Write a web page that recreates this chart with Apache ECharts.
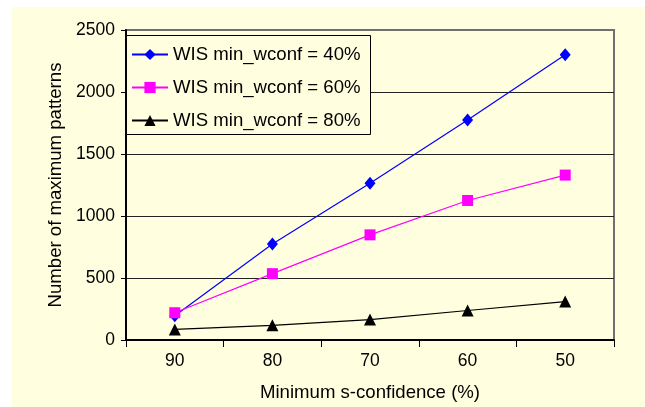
<!DOCTYPE html>
<html>
<head>
<meta charset="utf-8">
<script src="https://cdn.jsdelivr.net/npm/echarts@6/dist/echarts.min.js"></script>
<style>html,body{margin:0;padding:0;background:#fff}#c{width:645px;height:407px}</style>
</head>
<body>
<div id="c"></div>
<script>
const categories = ['90', '80', '70', '60', '50'];
const seriesNames = ['WIS min_wconf = 40%', 'WIS min_wconf = 60%', 'WIS min_wconf = 80%'];
const wconf40 = [195, 775, 1265, 1775, 2300];
const wconf60 = [220, 535, 848, 1125, 1330];
const wconf80 = [85, 118, 165, 238, 310];
const yTicks = { min: 0, max: 2500, interval: 500 };

const FONT = '"Liberation Sans", Arial, sans-serif';
const chart = echarts.init(document.getElementById('c'));
chart.setOption({
  backgroundColor: '#ffffff',
  animation: false,
  textStyle: { fontFamily: FONT, color: '#000' },
  graphic: [{
    type: 'rect', z: -100, silent: true,
    shape: { x: 12, y: 7, width: 633, height: 400 },
    style: { fill: '#FFFFE0' }
  }, {
    type: 'rect', z: 3, silent: true,
    shape: { x: 126.5, y: 35.5, width: 244, height: 99 },
    style: { fill: '#FFFFE0', stroke: '#000', lineWidth: 1 }
  }],
  grid: {
    left: 126, right: 31, top: 30, bottom: 65,
    show: true, borderColor: '#707070', borderWidth: 2, backgroundColor: 'transparent'
  },
  legend: {
    orient: 'vertical', left: 126, top: 35, z: 6,
    padding: [10, 11, 8, 5],
    itemWidth: 36, itemHeight: 14, itemGap: 14,
    textStyle: { fontFamily: FONT, fontSize: 18.6, color: '#000', lineHeight: 18 },
    data: seriesNames
  },
  xAxis: {
    type: 'category', data: categories, boundaryGap: true,
    name: 'Minimum s-confidence (%)', nameLocation: 'middle', nameGap: 43,
    nameTextStyle: { fontFamily: FONT, fontSize: 18.6, color: '#000' },
    axisLine: { lineStyle: { color: '#000', width: 2 } },
    axisTick: { show: true, length: 7, inside: false, interval: 0, lineStyle: { color: '#000', width: 1 } },
    axisLabel: { fontFamily: FONT, fontSize: 17.5, color: '#000', margin: 12 }
  },
  yAxis: {
    type: 'value', min: yTicks.min, max: yTicks.max, interval: yTicks.interval,
    name: 'Number of maximum patterns', nameLocation: 'middle', nameGap: 58,
    nameTextStyle: { fontFamily: FONT, fontSize: 18.6, color: '#000' },
    axisLine: { show: true, lineStyle: { color: '#000', width: 2 } },
    axisTick: { show: true, length: 5, lineStyle: { color: '#000', width: 1 } },
    axisLabel: { fontFamily: FONT, fontSize: 17.5, color: '#000', margin: 11, formatter: v => String(v) },
    splitLine: { show: true, showMaxLine: false, lineStyle: { color: '#222', width: 1 } }
  },
  series: [
    { name: seriesNames[0], type: 'line', data: wconf40, symbol: 'diamond', symbolSize: [11, 13],
      lineStyle: { color: '#0000FF', width: 1.2 }, itemStyle: { color: '#0000FF' }, z: 3 },
    { name: seriesNames[1], type: 'line', data: wconf60, symbol: 'rect', symbolSize: [11, 11],
      lineStyle: { color: '#FF00FF', width: 1.2 }, itemStyle: { color: '#FF00FF' }, z: 4 },
    { name: seriesNames[2], type: 'line', data: wconf80, symbol: 'triangle', symbolSize: [12, 12],
      lineStyle: { color: '#000', width: 1.2 }, itemStyle: { color: '#000' }, z: 5 }
  ]
});
</script>
</body>
</html>
